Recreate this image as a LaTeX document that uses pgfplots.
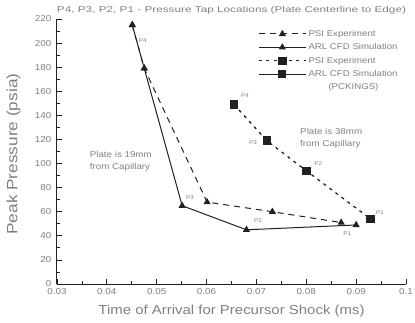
\documentclass[border=0pt]{standalone}
\usepackage{pgfplots}
\pgfplotsset{compat=1.18}
\usepackage{fontspec}
\setmainfont{Liberation Sans}[FakeStretch=1.15]
\newfontfamily\widefont{Liberation Sans}[FakeStretch=1.4]
\definecolor{txt}{gray}{0.5}
\definecolor{ln}{gray}{0.13}
\begin{document}
\begin{tikzpicture}
\useasboundingbox (-57pt,-38pt) rectangle (358pt,284pt);
\begin{axis}[
  scale only axis,
  width=349pt, height=265pt,
  xmin=0.03, xmax=0.1, ymin=0, ymax=220,
  axis lines=left,
  axis line style={-, ln, line width=1pt},
  xtick={0.03,0.04,...,0.1},
  xticklabels={0.03,0.04,0.05,0.06,0.07,0.08,0.09,0.1},
  ytick={0,20,...,220},
  minor x tick num=1, minor y tick num=1,
  tick align=inside,
  major tick length=5pt, minor tick length=3pt,
  tick style={ln, line width=0.8pt},
  tick label style={font=\fontsize{8.6}{9}\selectfont, text=txt},
  yticklabel style={xshift=-2pt},
  xticklabel style={yshift=-1pt},
  /pgf/number format/assume math mode=true,
  xlabel={Time of Arrival for Precursor Shock (ms)},
  ylabel={Peak Pressure (psia)},
  xlabel style={font=\fontsize{13}{14}\selectfont, text=txt,
    at={(axis description cs:0.5,0)}, anchor=center, yshift=-27pt},
  ylabel style={font=\fontsize{15}{16}\selectfont, text=txt,
    at={(axis description cs:-0.125,0.49)}, anchor=center},
  title={\widefont P4, P3, P2, P1 - Pressure Tap Locations (Plate Centerline to Edge)},
  title style={font=\fontsize{8.4}{9}\selectfont, text=txt,
    at={(axis description cs:0.5,1)}, anchor=center, yshift=3pt},
  clip=false,
  legend style={draw=none, fill=none, inner sep=0pt,
    at={(axis description cs:0.576,1)}, anchor=north west, yshift=-9pt,
    font=\fontsize{8.4}{9}\selectfont, text=txt, row sep=1.8pt,
    cells={anchor=west}},
  legend cell align=left,
  legend image code/.code={
    \draw[mark repeat=2, mark phase=2, #1]
      plot coordinates {(0pt,0pt) (23.5pt,0pt) (47pt,0pt)};
  },
]
% PSI experiment, plate 19 mm away
\addplot[ln, dash pattern=on 6pt off 5pt, line width=1pt, mark=triangle*, mark size=3.2pt, mark options={solid}]
  coordinates {(0.0451,215) (0.0475,179) (0.0601,68) (0.0732,60) (0.0870,51)};
\addlegendentry{PSI Experiment}
% ARL CFD simulation, plate 19 mm away
\addplot[ln, line width=1pt, mark=triangle*, mark size=3.2pt]
  coordinates {(0.0451,215) (0.0475,179) (0.0551,65) (0.0680,45) (0.0900,49)};
\addlegendentry{ARL CFD Simulation}
% PSI experiment, plate 38 mm away
\addplot[ln, dash pattern=on 3pt off 4.5pt, line width=1.3pt, mark=square*, mark size=3.6pt, mark options={solid}]
  coordinates {(0.0655,149) (0.0721,119) (0.0800,94) (0.0929,54)};
\addlegendentry{PSI Experiment}
\addlegendimage{ln, line width=1pt, mark=square*, mark size=3.6pt}
\addlegendentry{ARL CFD Simulation}
\addlegendimage{empty legend}
\addlegendentry{\hspace*{20pt}(PCKINGS)}
% tap labels
\begin{scope}[every node/.style={font=\fontsize{5.5}{6}\selectfont, text=txt}]
\node at (axis cs:0.0472,202) {P4};
\node at (axis cs:0.0567,72) {P3};
\node at (axis cs:0.0703,53) {P2};
\node at (axis cs:0.0882,41.5) {P1};
\node at (axis cs:0.0677,156) {P4};
\node at (axis cs:0.0693,117) {P3};
\node at (axis cs:0.0824,100) {P2};
\node at (axis cs:0.0948,59) {P1};
\end{scope}
\node[font=\fontsize{8.5}{11.5}\selectfont, text=txt, align=left] at (axis cs:0.0428,102) {Plate is 19mm\\from Capillary};
\node[font=\fontsize{8.5}{11.5}\selectfont, text=txt, align=left] at (axis cs:0.0850,121) {Plate is 38mm\\from Capillary};
\end{axis}
\end{tikzpicture}
\end{document}
